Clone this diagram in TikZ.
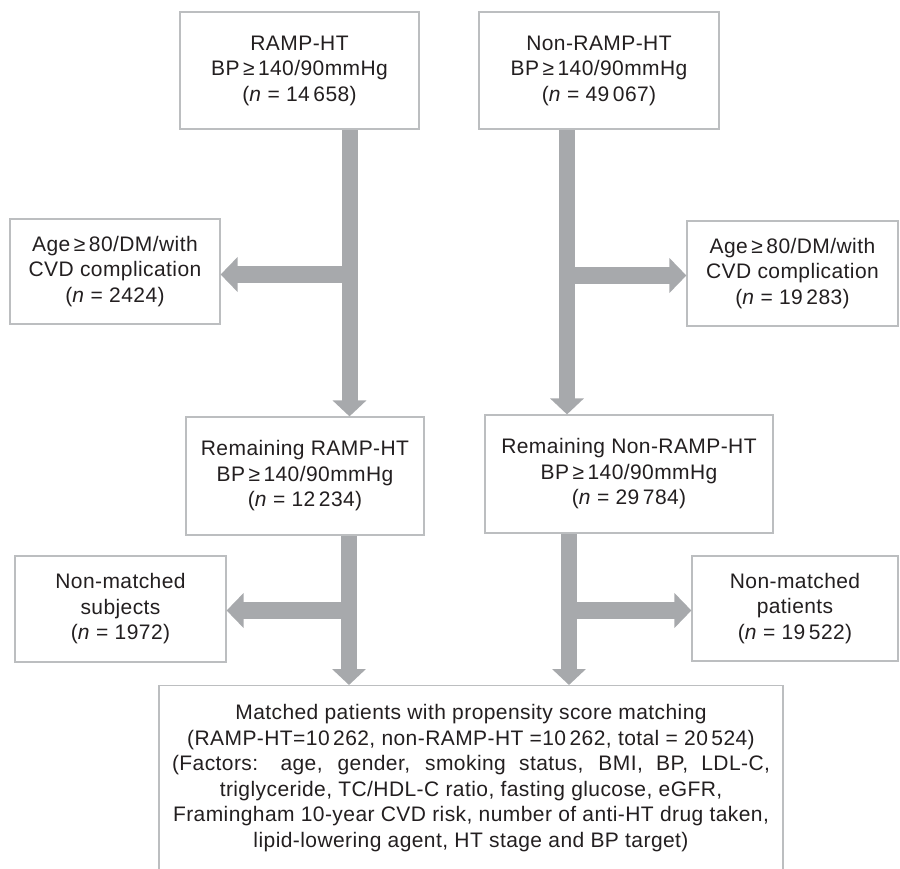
\documentclass[tikz,border=0pt]{standalone}
\usepackage{fontspec}
\setmainfont{Liberation Sans}[LetterSpace=2]
\usetikzlibrary{arrows.meta,calc}
\definecolor{arrowgray}{HTML}{A7A9AC}
\definecolor{boxgray}{HTML}{BCBEC0}
\definecolor{txtcol}{HTML}{231F20}
\begin{document}
\begin{tikzpicture}[x=1pt,y=-1pt,
  box/.style={draw=boxgray, line width=1.2pt, fill=white, inner sep=0pt, align=center,
    text=txtcol, font=\fontsize{21}{25.5}\selectfont},
  plaintext/.style={inner sep=0pt, align=center, text=txtcol, font=\fontsize{21}{25.5}\selectfont},
  bigarrow/.style={draw=arrowgray, line width=16pt, -{Triangle[width=33pt,length=16pt]}},
  branch/.style={draw=arrowgray, line width=17pt, -{Triangle[width=34pt,length=17pt]}}
]
\useasboundingbox (0,0) rectangle (900,869);
\clip (0,0) rectangle (900,869);

\node[box, minimum width=239pt, minimum height=117pt] (A) at (299.5,70.5)
  {RAMP-HT\\BP\,≥\,140/90mmHg\\(\textit{n} = 14\,658)};
\node[box, minimum width=240pt, minimum height=117pt] (B) at (599,70.5)
  {Non-RAMP-HT\\BP\,≥\,140/90mmHg\\(\textit{n} = 49\,067)};
\node[box, minimum width=210pt, minimum height=105pt] (C) at (115,271.5)
  {Age\,≥\,80/DM/with\\CVD complication\\(\textit{n} = 2424)};
\node[box, minimum width=211pt, minimum height=105pt] (D) at (792.5,273.5)
  {Age\,≥\,80/DM/with\\CVD complication\\(\textit{n} = 19\,283)};
\node[box, minimum width=238pt, minimum height=118pt] (E) at (305,476)
  {Remaining RAMP-HT\\BP\,≥\,140/90mmHg\\(\textit{n} = 12\,234)};
\node[box, minimum width=288pt, minimum height=118pt] (F) at (629,474)
  {Remaining Non-RAMP-HT\\BP\,≥\,140/90mmHg\\(\textit{n} = 29\,784)};
\node[box, minimum width=211pt, minimum height=106pt] (G) at (120.5,609)
  {Non-matched\\subjects\\(\textit{n} = 1972)};
\node[box, minimum width=206pt, minimum height=105pt] (H) at (795,608.5)
  {Non-matched\\patients\\(\textit{n} = 19\,522)};
\node[box, minimum width=624pt, minimum height=200pt, anchor=north] (I) at (471,685) {};
\node[plaintext] (Itxt) at (471,778)
  {Matched patients with propensity score matching\\
   (RAMP-HT=10\,262, non-RAMP-HT =10\,262, total = 20\,524)\\
   \makebox[598pt][s]{(Factors: age, gender, smoking status, BMI, BP, LDL-C,}\\
   triglyceride, TC/HDL-C ratio, fasting glucose, eGFR,\\
   Framingham 10-year CVD risk, number of anti-HT drug taken,\\
   lipid-lowering agent, HT stage and BP target)};

\coordinate (jA) at (349.5,274.5);
\coordinate (jB) at (567,275.5);
\coordinate (jC) at (349,610.5);
\coordinate (jD) at (569,610.5);

\draw[bigarrow, shorten <=0.6pt] ([xshift=50pt]A.south) -- ([xshift=44.5pt]E.north);
\draw[branch] (jA) -- (jA -| C.east);
\draw[bigarrow, shorten <=0.6pt] ([xshift=-32pt]B.south) -- ([xshift=-62pt]F.north);
\draw[branch] (jB) -- (jB -| D.west);
\draw[bigarrow, shorten <=0.6pt] ([xshift=44pt]E.south) -- ([xshift=-122pt]I.north);
\draw[branch] (jC) -- (jC -| G.east);
\draw[bigarrow, shorten <=0.6pt] ([xshift=-60pt]F.south) -- ([xshift=98pt]I.north);
\draw[branch] (jD) -- (jD -| H.west);
\end{tikzpicture}
\end{document}
